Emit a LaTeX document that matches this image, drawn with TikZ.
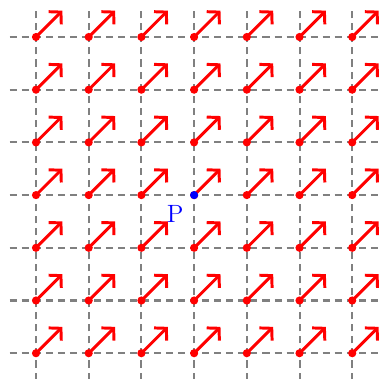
\documentclass[tikz,border=0pt]{standalone}
\usetikzlibrary{arrows.meta,calc}
\tikzset{gridline/.style={draw=gray,line width=1.1pt,dash pattern=on 3.8pt off 2.7pt},
  vec/.style={-{Straight Barb[length=1.6mm,width=3.4mm]},draw=red,line width=1.6pt},
  dot/.style={circle,fill=red,inner sep=0pt,minimum size=1.55mm}}

\begin{document}
\begin{tikzpicture}
\useasboundingbox (-0.683,-0.474) rectangle (6.622,6.702);
\foreach \k in {0,...,6}{
  \draw[gridline] (-0.5,\k)--(6.5,\k);
  \draw[gridline] (\k,-0.5)--(\k,6.5);}
\foreach \i in {0,...,6}{\foreach \j in {0,...,6}{
  \coordinate (p\i\j) at (\i,\j);
  \coordinate (h\i\j) at ($(p\i\j)+(0.5,0.5)$);
  \draw[vec] (p\i\j)--(h\i\j);
  \node[dot] at (p\i\j) {};}}
\node[dot,fill=blue] (center) at (p33) {};
\node[text=blue,font=\fontsize{13.5}{16}\selectfont] at ($(center)+(-0.36,-0.36)$) {P};
\end{tikzpicture}
\end{document}
